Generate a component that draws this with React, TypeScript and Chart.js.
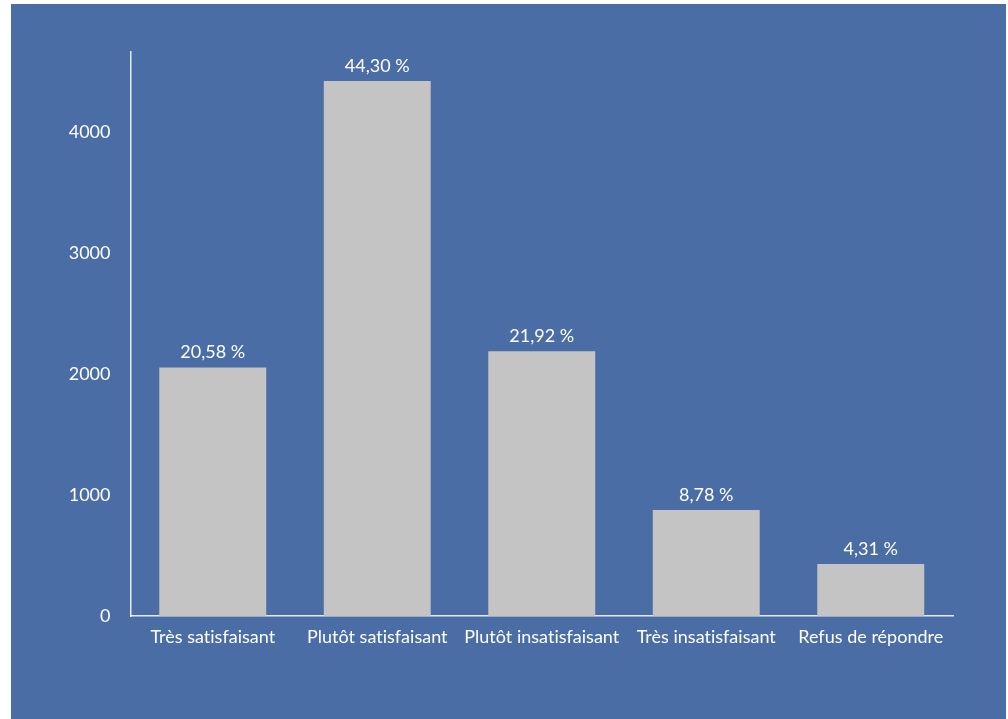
import React, { useEffect, useRef } from "react";
import { Chart, registerables } from "chart.js";

Chart.register(...registerables);

const categories = ["Très satisfaisant", "Plutôt satisfaisant", "Plutôt insatisfaisant", "Très insatisfaisant", "Refus de répondre"];
const counts = [2054, 4421, 2188, 876, 430];
const percentLabels = ["20,58\u202F%", "44,30\u202F%", "21,92\u202F%", "8,78\u202F%", "4,31\u202F%"];
const yTicks = [0, 1000, 2000, 3000, 4000];

const BG = "#4a6da6";
const FONT = "Lato";

const noLigatures = {
  id: "noLigatures",
  beforeDraw(chart: any) {
    try { chart.ctx.letterSpacing = "0.01px"; } catch (e) {}
  },
};

const valueLabels = {
  id: "valueLabels",
  afterDatasetsDraw(chart: any) {
    const ctx = chart.ctx;
    const meta = chart.getDatasetMeta(0);
    ctx.save();
    ctx.fillStyle = "#ffffff";
    ctx.font = `18px ${FONT}`;
    ctx.textAlign = "center";
    ctx.textBaseline = "alphabetic";
    meta.data.forEach((bar: any, i: number) => {
      ctx.fillText(percentLabels[i], bar.x, bar.y - 9);
    });
    ctx.restore();
  },
};

export default function App() {
  const ref = useRef<HTMLCanvasElement>(null);
  useEffect(() => {
    const chart = new Chart(ref.current!, {
      type: "bar",
      data: {
        labels: categories,
        datasets: [
          {
            data: counts,
            backgroundColor: "#c4c4c4",
            borderWidth: 0,
            barPercentage: 0.65,
            categoryPercentage: 1,
          },
        ],
      },
      options: {
        animation: false,
        responsive: false,
        layout: { padding: { top: 48, right: 53, left: 0, bottom: 0 } },
        plugins: { legend: { display: false }, tooltip: { enabled: false } },
        scales: {
          x: {
            grid: { display: false, drawTicks: false },
            border: { display: true, color: "rgba(255,255,255,0.85)", width: 1.5 },
            ticks: { color: "#ffffff", font: { family: FONT, size: 18 }, padding: 10, maxRotation: 0, autoSkip: false },
            afterFit: (s: any) => { s.height = 103; },
          },
          y: {
            min: 0,
            max: 4660,
            grid: { display: false, drawTicks: false },
            border: { display: true, color: "rgba(255,255,255,0.85)", width: 1.5 },
            ticks: {
              color: "#ffffff",
              font: { family: FONT, size: 18 },
              padding: 20,
              stepSize: 1000,
              callback: (v: any) => String(v),
            },
            afterBuildTicks: (s: any) => {
              s.ticks = yTicks.map((v) => ({ value: v }));
            },
            afterFit: (s: any) => { s.width = 119.5; },
          },
        },
      },
      plugins: [noLigatures, valueLabels],
    });
    return () => chart.destroy();
  }, []);
  return (
    <div style={{ position: "fixed", left: 11, top: 4, width: 995, height: 715, background: BG }}>
      <canvas ref={ref} width={995} height={715} style={{ display: "block" }} />
    </div>
  );
}
